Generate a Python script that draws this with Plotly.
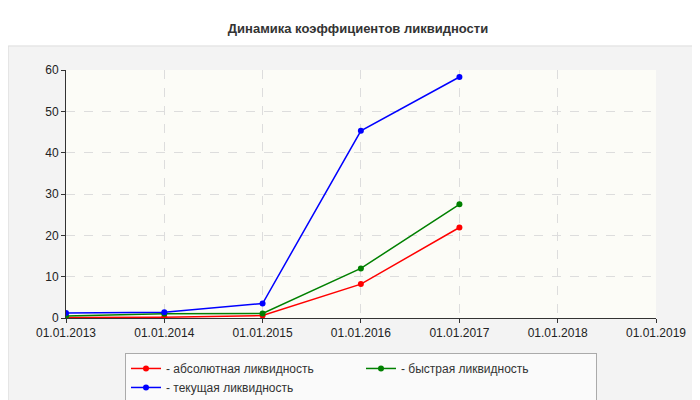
import plotly.graph_objects as go

dates = ["2013-01-01", "2014-01-01", "2015-01-01", "2016-01-01", "2017-01-01"]
absolute = [0.1, 0.2, 0.6, 8.2, 21.9]
quick = [0.5, 1.0, 1.1, 12.0, 27.5]
current = [1.2, 1.4, 3.5, 45.3, 58.3]
tick_dates = ["2013-01-01", "2014-01-01", "2015-01-01", "2016-01-01",
              "2017-01-01", "2018-01-01", "2019-01-01"]
tick_labels = ["01.01.2013", "01.01.2014", "01.01.2015", "01.01.2016",
               "01.01.2017", "01.01.2018", "01.01.2019"]

series = [
    ("- абсолютная ликвидность", absolute, "#ff0000"),
    ("- быстрая ликвидность", quick, "#008000"),
    ("- текущая ликвидность", current, "#0000ff"),
]

fig = go.Figure()
for name, vals, color in series:
    fig.add_trace(go.Scatter(
        x=dates, y=vals, name=name, mode="lines+markers",
        line=dict(color=color, width=1.5),
        marker=dict(color=color, size=6),
    ))

fig.update_layout(
    width=700, height=400,
    margin=dict(l=58, r=52, t=62, b=90, autoexpand=False),
    paper_bgcolor="white",
    plot_bgcolor="#fcfcf7",
    font=dict(family="Arial, Liberation Sans", size=12, color="#222"),
    title=dict(text="<b>Динамика коэффициентов ликвидности</b>", x=0.5, y=0.95,
               xanchor="center", yanchor="middle", font=dict(size=13, color="#333")),
    showlegend=True,
    legend=dict(orientation="h", x=0.5, xanchor="center", y=-0.141, yanchor="top",
                bgcolor="#fafafa", bordercolor="#aaa", borderwidth=1,
                entrywidth=190, font=dict(size=12, color="#333")),
    shapes=[
        dict(type="rect", xref="paper", yref="paper", layer="below",
             x0=-0.098, x1=1.088, y0=-0.355, y1=1.097,
             fillcolor="#f3f3f3", line=dict(color="#ddd", width=1)),
        dict(type="rect", xref="paper", yref="paper", layer="below",
             x0=0, x1=1, y0=0, y1=1,
             fillcolor="#fcfcf7", line=dict(width=0)),
    ],
)
fig.update_xaxes(
    type="date", range=["2013-01-01", "2019-01-01"],
    tickvals=tick_dates, ticktext=tick_labels, automargin=False,
    showgrid=True, gridcolor="#dddddd", griddash="dash",
    showline=True, linecolor="#333", ticks="outside", ticklen=4,
    tickcolor="#333", zeroline=False,
)
fig.update_yaxes(
    range=[0, 60], dtick=10, automargin=False,
    showgrid=True, gridcolor="#dddddd", griddash="dash",
    showline=True, linecolor="#333", ticks="outside", ticklen=4,
    tickcolor="#333", zeroline=False,
)

fig.write_html("out.html")
